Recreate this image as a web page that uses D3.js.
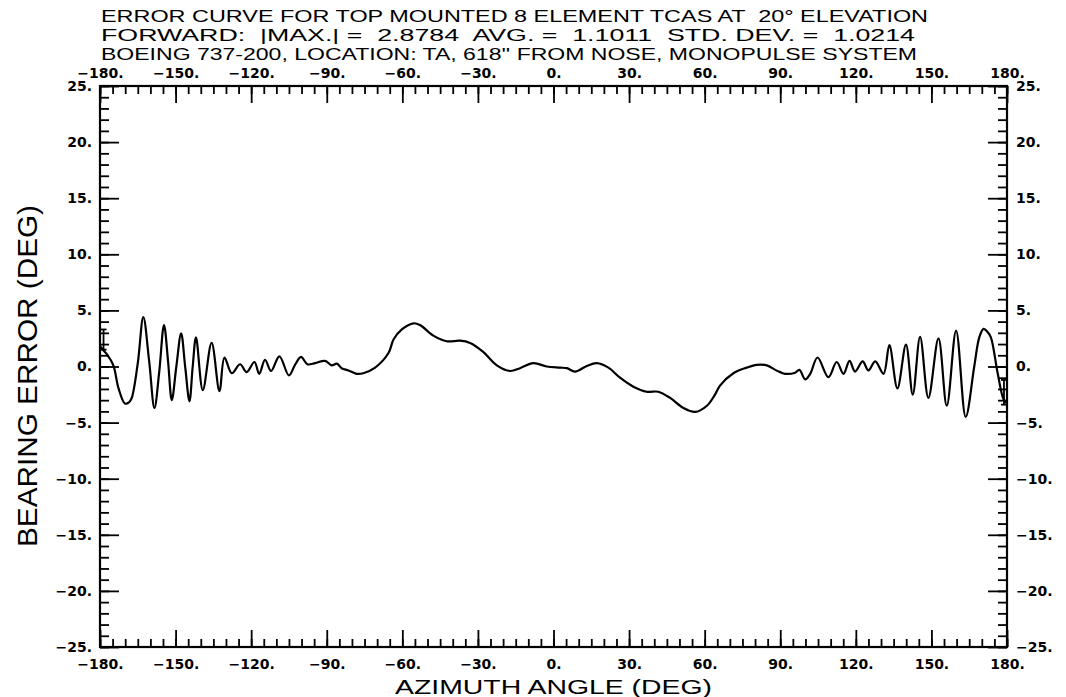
<!DOCTYPE html>
<html>
<head>
<meta charset="utf-8">
<script src="https://cdn.jsdelivr.net/npm/d3@7"></script>
<style>
  html, body { margin: 0; padding: 0; background: #fff; }
  svg { display: block; }
  text { fill: #000; }
</style>
</head>
<body>
<svg id="chart" width="1066" height="697"></svg>
<script>
// ---- Data ----
const titleLines = [
  "ERROR CURVE FOR TOP MOUNTED 8 ELEMENT TCAS AT  20° ELEVATION",
  "FORWARD:  |MAX.| =  2.8784  AVG. =  1.1011  STD. DEV. =  1.0214",
  "BOEING 737-200, LOCATION: TA, 618'' FROM NOSE, MONOPULSE SYSTEM"
];
const xLabel = "AZIMUTH ANGLE (DEG)";
const yLabel = "BEARING ERROR (DEG)";

const xMajorTicks = [-180, -150, -120, -90, -60, -30, 0, 30, 60, 90, 120, 150, 180];
const xMinorTicks = d3.range(-180, 181, 5);
const yMajorTicks = [-25, -20, -15, -10, -5, 0, 5, 10, 15, 20, 25];
const yMinorTicks = d3.range(-25, 26, 1);

const azimuth = [
  -180, -178.5, -177.3, -174.7, -172.7, -170.1, -168.5, -167.4, -165.0, -162.8,
  -160.5, -158.4, -156.5, -154.6, -153.0, -151.5, -149.7, -147.8, -146.2, -144.5,
  -143.2, -141.9, -139.2, -135.7, -132.6, -130.6, -127.7, -124.4, -121.8, -118.7,
  -116.8, -114.5, -112.1, -108.8, -105.0, -102.6, -100.2, -97.7, -94.6, -90.7,
  -88.0, -86.0, -84.1, -81.4, -78.1, -75.5, -70.8, -65.5, -63.5, -60.2,
  -55.6, -53.0, -47.7, -42.4, -37.1, -33.1, -27.9, -22.5, -17.2, -13.3,
  -8.0, -2.7, 2.6, 5.3, 8.6, 13.2, 17.2, 21.8, 26.4, 31.7,
  37.0, 41.6, 46.3, 51.6, 56.2, 60.9, 64.1, 66.1, 71.4, 76.7,
  80.7, 84.7, 88.0, 90.0, 91.9, 95.9, 97.6, 99.9, 101.9, 104.8,
  109.1, 112.4, 115.1, 117.5, 119.7, 122.7, 125.0, 127.7, 131.0, 133.3,
  136.5, 139.9, 142.6, 145.5, 148.8, 152.8, 156.1, 159.8, 163.6, 167.0,
  169.0, 170.7, 172.2, 173.6, 176.3, 178.6, 180
];
const bearingError = [
  1.8, 1.4, 1.1, 0.1, -1.9, -3.3, -3.2, -2.8, 0.3, 4.4,
  0.5, -3.7, -0.5, 3.7, 0.5, -3.0, 0.0, 2.96, 0.0, -3.1,
  0.0, 2.6, -2.1, 2.1, -2.2, 0.8, -0.6, 0.2, -0.5, 0.4,
  -0.65, 0.6, -0.4, 0.9, -0.8, 0.15, 0.85, 0.2, 0.3, 0.5,
  0.1, 0.25, -0.15, -0.35, -0.65, -0.6, -0.1, 1.2, 2.4, 3.3,
  3.85, 3.7, 2.75, 2.25, 2.3, 2.1, 1.3, 0.1, -0.4, -0.15,
  0.3, 0.0, -0.1, -0.15, -0.45, 0.05, 0.3, -0.1, -1.0, -1.8,
  -2.25, -2.25, -2.8, -3.7, -4.05, -3.5, -2.5, -1.7, -0.6, -0.1,
  0.15, 0.1, -0.3, -0.5, -0.65, -0.55, -0.3, -1.15, -0.65, 0.8,
  -0.95, 0.4, -0.65, 0.5, -0.45, 0.45, -0.35, 0.45, -0.65, 1.9,
  -1.95, 1.95, -2.5, 2.65, -2.8, 2.5, -3.5, 3.2, -4.5, 0.0,
  2.6, 3.35, 3.1, 2.6, -0.6, -2.9, -3.3
];

// end-point markers (I-beams) at both ends of the curve
const markerAz = [-178.6, 178.8];
const markerLo = [1.5, -3.4];
const markerHi = [3.3, -1.2];

// ---- Layout ----
const svg = d3.select("#chart");
const L = 100, R = 1007, T = 86, B = 647;
const x = d3.scaleLinear().domain([-180, 180]).range([L, R]);
const y = d3.scaleLinear().domain([-25, 25]).range([B, T]);

const fmt = d => (d < 0 ? "\u2212" : "") + Math.abs(d) + ".";
const tickFont = "'DejaVu Sans', sans-serif";
const tickSize = 14;

function styleAxis(g) {
  g.select(".domain").remove();
  g.selectAll(".tick line").attr("stroke", "#000").attr("stroke-width", 1.8);
  g.selectAll(".tick text")
    .attr("font-family", tickFont)
    .attr("font-weight", "bold")
    .attr("font-size", tickSize)
    .attr("fill", "#000");
}

// minor ticks
svg.append("g").attr("transform", `translate(0,${T})`)
  .call(d3.axisTop(x).tickValues(xMinorTicks).tickSize(-8).tickFormat(""))
  .call(styleAxis);
svg.append("g").attr("transform", `translate(0,${B})`)
  .call(d3.axisBottom(x).tickValues(xMinorTicks).tickSize(-8).tickFormat(""))
  .call(styleAxis);
svg.append("g").attr("transform", `translate(${L},0)`)
  .call(d3.axisLeft(y).tickValues(yMinorTicks).tickSize(-9).tickFormat(""))
  .call(styleAxis);
svg.append("g").attr("transform", `translate(${R},0)`)
  .call(d3.axisRight(y).tickValues(yMinorTicks).tickSize(-9).tickFormat(""))
  .call(styleAxis);

// major ticks with labels
svg.append("g").attr("transform", `translate(0,${T})`)
  .call(d3.axisTop(x).tickValues(xMajorTicks).tickSizeInner(-17).tickSizeOuter(0).tickPadding(8).tickFormat(fmt))
  .call(styleAxis);
svg.append("g").attr("transform", `translate(0,${B})`)
  .call(d3.axisBottom(x).tickValues(xMajorTicks).tickSizeInner(-17).tickSizeOuter(0).tickPadding(12).tickFormat(fmt))
  .call(styleAxis);
svg.append("g").attr("transform", `translate(${L},0)`)
  .call(d3.axisLeft(y).tickValues(yMajorTicks).tickSizeInner(-19).tickSizeOuter(0).tickPadding(8).tickFormat(fmt))
  .call(styleAxis);
svg.append("g").attr("transform", `translate(${R},0)`)
  .call(d3.axisRight(y).tickValues(yMajorTicks).tickSizeInner(-19).tickSizeOuter(0).tickPadding(9).tickFormat(fmt))
  .call(styleAxis);

// frame
svg.append("rect")
  .attr("x", L).attr("y", T).attr("width", R - L).attr("height", B - T)
  .attr("fill", "none").attr("stroke", "#000").attr("stroke-width", 2.2);

// curve
const pts = azimuth.map((a, i) => [a, bearingError[i]]);
const line = d3.line().x(d => x(d[0])).y(d => y(d[1])).curve(d3.curveCatmullRom.alpha(0.5));
svg.append("path").attr("d", line(pts))
  .attr("fill", "none").attr("stroke", "#000").attr("stroke-width", 2.2)
  .attr("stroke-linejoin", "round");

// end markers
markerAz.forEach((a, i) => {
  const g = svg.append("g").attr("stroke", "#000").attr("stroke-width", 1.8);
  g.append("line").attr("x1", x(a)).attr("x2", x(a)).attr("y1", y(markerLo[i])).attr("y2", y(markerHi[i]));
  [markerLo[i], markerHi[i]].forEach(v => {
    g.append("line").attr("x1", x(a) - 3).attr("x2", x(a) + 3).attr("y1", y(v)).attr("y2", y(v));
  });
});

// titles
const titleFont = "'Liberation Sans', sans-serif";
const titleBase = [22, 41, 60];
const titleLen = [827, 814, 816];
titleLines.forEach((t, i) => {
  svg.append("text")
    .attr("x", L + 1).attr("y", titleBase[i])
    .attr("font-family", titleFont).attr("font-size", 17)
    .attr("textLength", titleLen[i]).attr("lengthAdjust", "spacingAndGlyphs")
    .style("white-space", "pre")
    .text(t);
});

// axis titles
svg.append("text")
  .attr("x", (L + R) / 2).attr("y", 694)
  .attr("text-anchor", "middle")
  .attr("font-family", titleFont).attr("font-size", 21)
  .attr("textLength", 317).attr("lengthAdjust", "spacingAndGlyphs")
  .text(xLabel);

svg.append("text")
  .attr("transform", `translate(37,376) rotate(-90)`)
  .attr("text-anchor", "middle")
  .attr("font-family", titleFont).attr("font-size", 28)
  .attr("textLength", 342).attr("lengthAdjust", "spacingAndGlyphs")
  .text(yLabel);
</script>
</body>
</html>
